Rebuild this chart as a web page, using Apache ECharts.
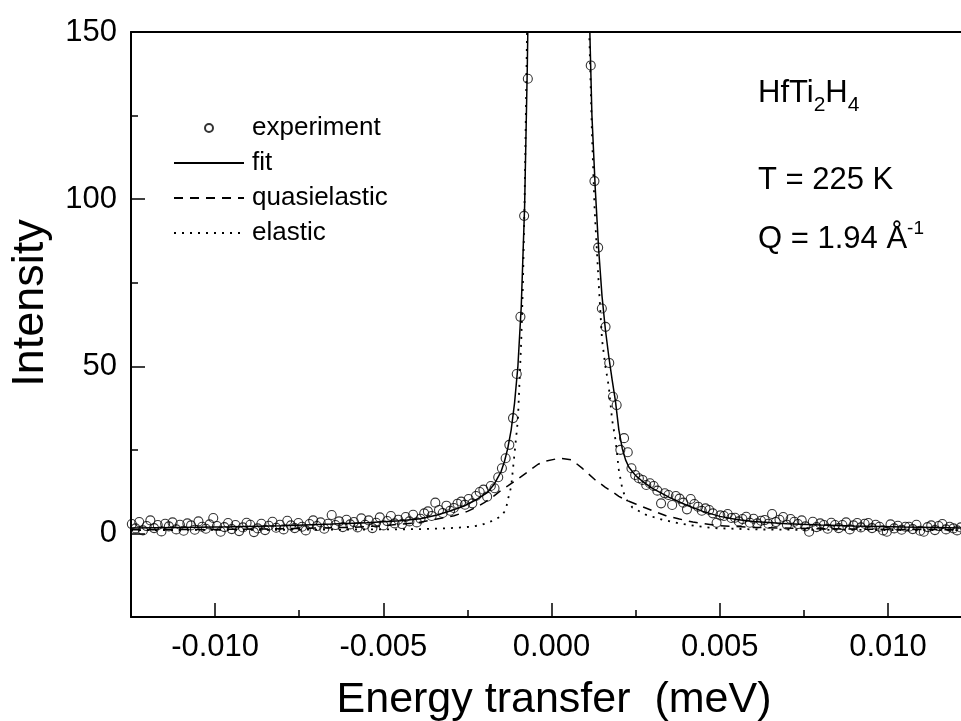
<!DOCTYPE html>
<html>
<head>
<meta charset="utf-8">
<script src="https://cdn.jsdelivr.net/npm/echarts@6/dist/echarts.min.js"></script>
<style>html,body{margin:0;padding:0;background:#fff}#c{width:961px;height:721px}</style>
</head>
<body>
<div id="c"></div>
<script>
// ---------- DATA ----------
// Experiment: energy transfer (meV)
const expEnergy = [
 -0.012475,-0.012365,-0.012255,-0.012145,-0.012035,-0.011925,-0.011815,-0.011705,-0.011595,-0.011485,
 -0.011375,-0.011265,-0.011155,-0.011045,-0.010935,-0.010825,-0.010715,-0.010605,-0.010495,-0.010385,
 -0.010275,-0.010165,-0.010055,-0.009945,-0.009835,-0.009725,-0.009615,-0.009505,-0.009395,-0.009285,
 -0.009175,-0.009065,-0.008955,-0.008845,-0.008735,-0.008625,-0.008515,-0.008405,-0.008295,-0.008185,
 -0.008075,-0.007965,-0.007855,-0.007745,-0.007635,-0.007525,-0.007415,-0.007305,-0.007195,-0.007085,
 -0.006975,-0.006865,-0.006755,-0.006645,-0.006535,-0.006425,-0.006315,-0.006205,-0.006095,-0.005985,
 -0.005875,-0.005765,-0.005655,-0.005545,-0.005435,-0.005325,-0.005215,-0.005105,-0.004995,-0.004885,
 -0.004775,-0.004665,-0.004555,-0.004445,-0.004335,-0.004225,-0.004115,-0.004005,-0.003895,-0.003785,
 -0.003675,-0.003565,-0.003455,-0.003345,-0.003235,-0.003125,-0.003015,-0.002905,-0.002795,-0.002685,
 -0.002575,-0.002465,-0.002355,-0.002245,-0.002135,-0.002025,-0.001915,-0.001805,-0.001695,-0.001585,
 -0.001475,-0.001365,-0.001255,-0.001145,-0.001035,-0.000925,-0.000815,-0.000705,-0.000595,-0.000485,
 -0.000375,-0.000265,-0.000155,-0.000045,0.000065,0.000175,0.000285,0.000395,0.000505,0.000615,
 0.000725,0.000835,0.000945,0.001055,0.001165,0.001275,0.001385,0.001495,0.001605,0.001715,
 0.001825,0.001935,0.002045,0.002155,0.002265,0.002375,0.002485,0.002595,0.002705,0.002815,
 0.002925,0.003035,0.003145,0.003255,0.003365,0.003475,0.003585,0.003695,0.003805,0.003915,
 0.004025,0.004135,0.004245,0.004355,0.004465,0.004575,0.004685,0.004795,0.004905,0.005015,
 0.005125,0.005235,0.005345,0.005455,0.005565,0.005675,0.005785,0.005895,0.006005,0.006115,
 0.006225,0.006335,0.006445,0.006555,0.006665,0.006775,0.006885,0.006995,0.007105,0.007215,
 0.007325,0.007435,0.007545,0.007655,0.007765,0.007875,0.007985,0.008095,0.008205,0.008315,
 0.008425,0.008535,0.008645,0.008755,0.008865,0.008975,0.009085,0.009195,0.009305,0.009415,
 0.009525,0.009635,0.009745,0.009855,0.009965,0.010075,0.010185,0.010295,0.010405,0.010515,
 0.010625,0.010735,0.010845,0.010955,0.011065,0.011175,0.011285,0.011395,0.011505,0.011615,
 0.011725,0.011835,0.011945,0.012055,0.012165
];
// Experiment: intensity
const expIntensity = [
 2.8,1.5,3.4,0.9,2.2,3.9,1.6,2.5,0.6,2.9,
 2.1,3.3,1.2,2.6,0.8,3.0,2.4,1.1,3.6,2.0,
 1.4,2.7,4.6,2.2,0.5,1.9,3.1,1.3,2.5,0.7,
 1.8,3.2,2.6,0.4,1.5,2.9,1.0,2.3,3.5,1.7,
 2.6,1.2,3.8,2.4,1.6,3.1,2.0,0.9,2.8,3.9,
 2.2,3.3,1.4,2.9,5.5,2.5,3.6,1.9,4.1,2.7,
 3.4,1.8,4.5,2.6,3.9,1.6,3.2,4.8,2.4,3.7,
 5.2,3.0,4.1,2.8,4.9,3.6,5.6,3.3,4.4,6.0,
 6.6,5.2,9.2,7.0,6.1,8.3,6.8,7.6,8.9,9.5,
 8.6,10.3,9.0,11.2,12.4,13.1,11.0,14.2,13.5,16.8,
 19.5,22.5,26.5,34.5,47.7,64.8,95,136,200,280,
 380,480,560,640,690,700,690,640,560,470,
 380,290,225,175,140,105.4,85.5,67.3,61.8,51,
 40.9,38.4,25,28.5,24.3,19.5,17.5,16.5,16,14.5,
 15,14.2,12.8,9,12,11.5,8.5,11.2,10.4,9.2,
 7.2,10.3,8.8,8,6.8,7.5,7,6,3.2,5.4,
 5.2,5.8,4.6,4.7,3.6,4.3,5.0,3.2,4.4,3.0,
 3.8,4.0,2.9,5.8,3.4,4.1,4.9,2.6,4.3,3.5,
 2.8,3.9,2.1,0.5,3.5,1.9,3.0,2.5,1.4,3.2,
 2.5,1.6,2.5,3.3,1.2,2.4,3.1,1.8,2.9,3.1,
 1.6,2.6,2.0,0.9,0.5,2.7,1.5,2.3,1.1,2.0,
 2.0,1.3,2.6,0.8,0.5,1.9,2.4,1.0,2.2,2.8,
 1.2,2.0,1.5,0.9,1.8
];
// Fit curve
const fitEnergy = [-0.0125,-0.011,-0.0095,-0.008,-0.0065,-0.0055,-0.0045,-0.0039,-0.0034,-0.003,-0.0026,-0.0022,-0.0019,-0.0017,-0.0015,-0.0014,-0.0013,-0.0012,-0.0011,-0.001,-0.0009,-0.0008,-0.00072,-0.00065,-0.0005,-0.0003,0,0.0002,0.0005,0.0008,0.001,0.00115,0.0012,0.0013,0.0014,0.0015,0.0016,0.0017,0.0018,0.0019,0.002,0.0021,0.0022,0.0023,0.0025,0.0027,0.003,0.0035,0.004,0.0045,0.005,0.0055,0.006,0.007,0.008,0.009,0.0105,0.0125];
const fitIntensity = [1.6,1.8,2.0,2.3,2.8,3.2,3.8,4.4,5.5,6.8,8.2,10.3,12.3,14.8,18.5,21.5,25.5,31,39,50,68,98,140,190,300,480,650,700,560,340,210,145,125,103,85,71,61,53,46,39.5,31,25.5,22,19.8,17.3,15.6,13.5,10.8,8.5,6.6,5.1,4.2,3.6,2.9,2.5,2.2,1.9,1.6];
// Quasielastic component
const qeEnergy = [-0.0125,-0.01,-0.008,-0.006,-0.005,-0.004,-0.0035,-0.0029,-0.0025,-0.0022,-0.002,-0.0017,-0.00155,-0.0013,-0.001,-0.0007,-0.0004,-0.0002,0.00024,0.0006,0.0009,0.0011,0.0013,0.0016,0.0018,0.002,0.0022,0.0025,0.0027,0.003,0.0034,0.0038,0.0042,0.005,0.006,0.008,0.01,0.0125];
const qeIntensity = [1.1,1.2,1.4,1.8,2.3,3.2,4.1,5.3,6.6,8,9.2,11.3,12.5,14.2,16.3,18.5,20.7,21.6,22.5,22,19.6,17.8,16,13.8,12.5,11.1,10,8.8,8,6.8,5.3,4.3,3.4,2.3,1.8,1.4,1.2,1.1];
// Elastic component
const elEnergy = [-0.0125,-0.008,-0.005,-0.0038,-0.003,-0.0024,-0.0021,-0.0019,-0.0017,-0.0015,-0.0014,-0.00135,-0.0013,-0.0012,-0.00115,-0.0011,-0.00105,-0.001,-0.00095,-0.0009,-0.00085,-0.0008,-0.00075,-0.0007,-0.0005,0.0002,0.0008,0.001,0.00112,0.0012,0.00128,0.0014,0.0015,0.0016,0.0017,0.0018,0.0019,0.002,0.0021,0.0022,0.0024,0.0028,0.0033,0.0038,0.0043,0.0048,0.006,0.008,0.0125];
const elIntensity = [1.0,1.1,1.2,1.3,1.6,2,2.5,3.2,4,5.2,6.5,7.5,10,14,19,24,29,34,46,58,75,100,135,170,300,900,300,200,150,120,97,75,58,50,44,34,28,19,13.5,10.5,7.8,5.6,4.1,3.0,2.2,1.6,1.2,1.05,1.0];
// Axis ticks
const xMajorTicks = [-0.01,-0.005,0,0.005,0.01];
const xMinorTicks = [-0.0125,-0.0075,-0.0025,0.0025,0.0075];
const yMajorTicks = [0,50,100,150];
const yMinorTicks = [-25,25,75,125];
const seriesNames = ['experiment','fit','quasielastic','elastic'];

// ---------- CHART ----------
const FONT = 'Liberation Sans, Arial, Helvetica, sans-serif';
const zip = (a,b) => a.map((v,i)=>[v,b[i]]);
const chart = echarts.init(document.getElementById('c'), null, {renderer:'canvas'});
// the right edge of the figure is cropped at E = 0.01217
const X_MIN=-0.0125, X_MAX=0.01217, Y_MIN=-25, Y_MAX=150;
const black='#000';
const hideSym = {opacity:0};
chart.setOption({
  animation:false,
  backgroundColor:'#fff',
  grid:{left:131, right:0, top:32, bottom:104, containLabel:false, outerBoundsMode:'none', show:false},
  legend:{
    orient:'vertical', left:168, top:110, itemWidth:70, itemHeight:8, itemGap:9,
    selectedMode:false,
    data:[
      {name:seriesNames[0]},
      {name:seriesNames[1], itemStyle:hideSym},
      {name:seriesNames[2], itemStyle:hideSym},
      {name:seriesNames[3], itemStyle:hideSym}
    ],
    textStyle:{fontSize:26, color:black, fontFamily:FONT, padding:[0,0,0,3]}
  },
  xAxis:[
    {type:'value', min:X_MIN, max:X_MAX, position:'bottom',
     splitLine:{show:false},
     axisLine:{onZero:false, lineStyle:{color:black, width:2}},
     axisTick:{inside:true, length:14, customValues:xMajorTicks, lineStyle:{color:black, width:1.5}},
     axisLabel:{customValues:xMajorTicks, formatter:v=>Number(v).toFixed(3), fontSize:31, color:black, fontFamily:FONT, margin:15},
     name:'Energy transfer  (meV)', nameLocation:'middle', nameGap:62,
     nameTextStyle:{fontSize:43, color:black, fontFamily:FONT, padding:[0,0,0,16]}},
    {type:'value', min:X_MIN, max:X_MAX, position:'bottom',
     splitLine:{show:false}, axisLine:{show:false, onZero:false}, axisLabel:{show:false},
     axisTick:{inside:true, length:7, customValues:xMinorTicks, lineStyle:{color:black, width:1.5}}},
    {type:'value', min:X_MIN, max:X_MAX, position:'top',
     splitLine:{show:false}, axisLine:{onZero:false, lineStyle:{color:black, width:2}},
     axisLabel:{show:false}, axisTick:{show:false}}
  ],
  yAxis:[
    {type:'value', min:Y_MIN, max:Y_MAX, position:'left',
     splitLine:{show:false},
     axisLine:{onZero:false, lineStyle:{color:black, width:2}},
     axisTick:{inside:true, length:14, customValues:yMajorTicks, lineStyle:{color:black, width:1.5}},
     axisLabel:{customValues:yMajorTicks, fontSize:31, color:black, fontFamily:FONT, margin:14}},
    {type:'value', min:Y_MIN, max:Y_MAX, position:'left',
     splitLine:{show:false}, axisLine:{show:false, onZero:false}, axisLabel:{show:false},
     axisTick:{inside:true, length:7, customValues:yMinorTicks, lineStyle:{color:black, width:1.5}}}
  ],
  series:[
    {name:'experiment', type:'scatter', data:zip(expEnergy, expIntensity), symbol:'circle', symbolSize:9,
     clip:true, z:5,
     itemStyle:{color:'rgba(255,255,255,0)', borderColor:black, borderWidth:1.1}},
    {name:'fit', type:'line', data:zip(fitEnergy, fitIntensity), showSymbol:false, symbol:'none', clip:true, z:3,
     lineStyle:{color:black, width:1.5, type:'solid'}, itemStyle:{color:black}},
    {name:'quasielastic', type:'line', data:zip(qeEnergy, qeIntensity), showSymbol:false, symbol:'none', clip:true, z:3,
     lineStyle:{color:black, width:1.5, type:[9,7]}, itemStyle:{color:black}},
    {name:'elastic', type:'line', data:zip(elEnergy, elIntensity), showSymbol:false, symbol:'none', clip:true, z:3,
     lineStyle:{color:black, width:1.8, type:[2,6]}, itemStyle:{color:black}}
  ],
  graphic:[
    {type:'text', x:31, y:303, rotation:Math.PI/2,
     style:{text:'Intensity', fill:black, font:'45px '+FONT, align:'center', verticalAlign:'middle'}},
    {type:'text', left:758, top:70, style:{
      text:'HfTi{sub|2}H{sub|4}', fill:black, font:'31px '+FONT, lineHeight:46,
      rich:{sub:{fontSize:21, fontFamily:FONT, fill:black, lineHeight:20, verticalAlign:'bottom'}}}},
    {type:'text', left:758, top:165, style:{text:'T = 225 K', fill:black, font:'31px '+FONT}},
    {type:'text', left:758, top:219, style:{
      text:'Q = 1.94 Å{sup|-1}', fill:black, font:'31px '+FONT, lineHeight:40,
      rich:{sup:{fontSize:19, fontFamily:FONT, fill:black, lineHeight:18, verticalAlign:'top'}}}}
  ]
});
</script>
</body>
</html>
